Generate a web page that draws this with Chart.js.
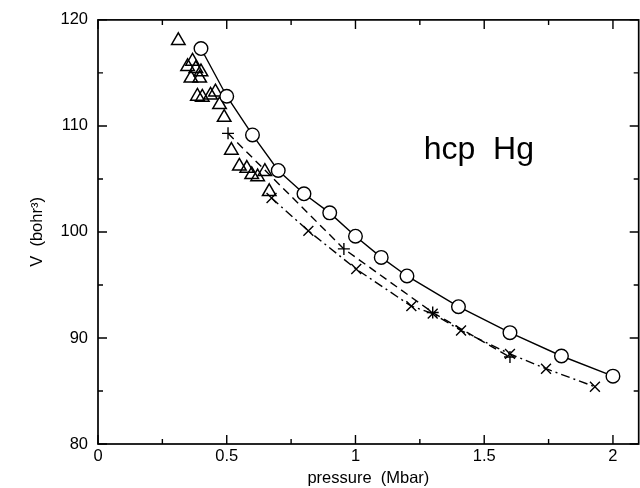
<!DOCTYPE html>
<html>
<head>
<meta charset="utf-8">
<script src="https://cdn.jsdelivr.net/npm/chart.js@4"></script>
<style>
  html, body { margin: 0; padding: 0; background: #fff; overflow: hidden; }
  #wrap { width: 648px; height: 488px; }
</style>
</head>
<body>
<div id="wrap"><canvas id="chart" width="648" height="488"></canvas></div>
<script>
// hcp Hg: volume vs pressure
const circleP = [0.4, 0.5, 0.6, 0.7, 0.8, 0.9, 1.0, 1.1, 1.2, 1.4, 1.6, 1.8, 2.0];
const circleV = [117.3, 112.8, 109.15, 105.8, 103.6, 101.8, 99.6, 97.6, 95.85, 92.95, 90.5, 88.3, 86.4];

const plusP = [0.505, 0.955, 1.30, 1.60];
const plusV = [109.3, 98.4, 92.4, 88.2];

const crossP = [0.674, 0.817, 1.003, 1.217, 1.30, 1.41, 1.60, 1.74, 1.93];
const crossV = [103.2, 100.1, 96.5, 93.0, 92.3, 90.7, 88.5, 87.1, 85.4];

const triP = [0.312, 0.348, 0.367, 0.38, 0.40, 0.361, 0.395, 0.386, 0.405, 0.437, 0.456, 0.472, 0.49,
              0.518, 0.549, 0.578, 0.597, 0.62, 0.648, 0.665];
const triV = [118.05, 115.6, 116.1, 115.4, 115.1, 114.5, 114.5, 112.8, 112.7, 112.9, 113.2, 112.0, 110.8,
              107.7, 106.2, 106.0, 105.4, 105.2, 105.7, 103.8];

const xTicks = [0, 0.5, 1, 1.5, 2];
const xMinor = [0.25, 0.75, 1.25, 1.75];
const yTicks = [80, 90, 100, 110, 120];
const yMinor = [85, 95, 105, 115];

const pts = (xs, ys) => xs.map((x, i) => ({ x: x, y: ys[i] }));

const FONT = 'Liberation Sans, Arial, Helvetica, sans-serif';

// frame, inward ticks and the label
const framePlugin = {
    id: 'frame',
    afterDraw(chart) {
        const ctx = chart.ctx;
        const a = chart.chartArea;
        const xs = chart.scales.x, ys = chart.scales.y;
        ctx.save();
        ctx.strokeStyle = '#000';
        ctx.lineWidth = 1.7;
        ctx.strokeRect(a.left, a.top, a.right - a.left, a.bottom - a.top);
        ctx.lineWidth = 1.4;
        ctx.beginPath();
        const tickX = (vals, len) => vals.forEach(v => {
            const px = xs.getPixelForValue(v);
            ctx.moveTo(px, a.bottom); ctx.lineTo(px, a.bottom - len);
            ctx.moveTo(px, a.top); ctx.lineTo(px, a.top + len);
        });
        const tickY = (vals, len) => vals.forEach(v => {
            const py = ys.getPixelForValue(v);
            ctx.moveTo(a.left, py); ctx.lineTo(a.left + len, py);
            ctx.moveTo(a.right, py); ctx.lineTo(a.right - len, py);
        });
        tickX(xTicks, 9); tickX(xMinor, 5);
        tickY(yTicks, 9); tickY(yMinor, 5);
        ctx.stroke();

        ctx.fillStyle = '#000';
        ctx.font = '32px ' + FONT;
        ctx.textBaseline = 'alphabetic';
        ctx.fillText('hcp  Hg', xs.getPixelForValue(1.265), ys.getPixelForValue(106.9));
        ctx.restore();
    }
};

new Chart(document.getElementById('chart'), {
    type: 'scatter',
    data: {
        datasets: [
            {
                label: 'circles',
                data: pts(circleP, circleV),
                showLine: true,
                borderColor: '#000',
                borderWidth: 1.4,
                pointStyle: 'circle',
                pointRadius: 6.8,
                pointBackgroundColor: '#fff',
                pointBorderColor: '#000',
                pointBorderWidth: 1.4,
                order: 0
            },
            {
                label: 'plus',
                data: pts(plusP, plusV),
                showLine: true,
                borderColor: '#000',
                borderWidth: 1.4,
                borderDash: [8, 5],
                pointStyle: 'cross',
                pointRadius: 6,
                pointBorderColor: '#000',
                pointBorderWidth: 1.4,
                order: 2
            },
            {
                label: 'cross',
                data: pts(crossP, crossV),
                showLine: true,
                borderColor: '#000',
                borderWidth: 1.4,
                borderDash: [9, 4, 2, 4],
                pointStyle: 'crossRot',
                pointRadius: 7,
                pointBorderColor: '#000',
                pointBorderWidth: 1.4,
                order: 3
            },
            {
                label: 'triangles',
                data: pts(triP, triV),
                showLine: false,
                pointStyle: 'triangle',
                pointRadius: 7.8,
                pointBackgroundColor: 'rgba(0,0,0,0)',
                pointBorderColor: '#000',
                pointBorderWidth: 1.5,
                order: 4
            }
        ]
    },
    options: {
        responsive: false,
        animation: false,
        events: [],
        layout: { padding: { top: 19, right: 3, left: 28, bottom: 0 } },
        plugins: {
            legend: { display: false },
            tooltip: { enabled: false }
        },
        scales: {
            x: {
                type: 'linear',
                min: 0,
                max: 2.1,
                afterBuildTicks: s => { s.ticks = xTicks.map(v => ({ value: v })); },
                afterFit: s => { s.height = 44; },
                grid: { display: false, drawTicks: false },
                border: { display: false },
                ticks: {
                    color: '#000',
                    padding: 3,
                    font: { family: FONT, size: 16.5 },
                    maxRotation: 0,
                    callback: v => String(v)
                },
                title: {
                    display: true,
                    text: 'pressure  (Mbar)',
                    color: '#000',
                    font: { family: FONT, size: 16.5 },
                    padding: { top: 0, bottom: 0 }
                }
            },
            y: {
                type: 'linear',
                min: 80,
                max: 120,
                afterBuildTicks: s => { s.ticks = yTicks.map(v => ({ value: v })); },
                afterFit: s => { s.width = 70; },
                grid: { display: false, drawTicks: false },
                border: { display: false },
                ticks: {
                    color: '#000',
                    padding: 10,
                    font: { family: FONT, size: 16.5 }
                },
                title: {
                    display: true,
                    text: 'V  (bohr³)',
                    color: '#000',
                    font: { family: FONT, size: 16.5 },
                    padding: { top: 0, bottom: 0 }
                }
            }
        }
    },
    plugins: [framePlugin]
});
</script>
</body>
</html>
